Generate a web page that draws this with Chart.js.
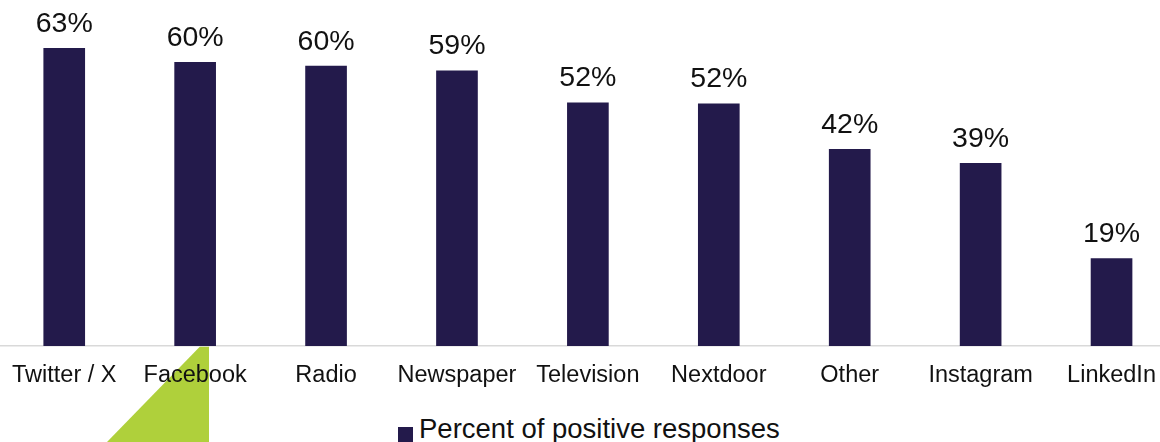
<!DOCTYPE html>
<html>
<head>
<meta charset="utf-8">
<script src="https://cdn.jsdelivr.net/npm/chart.js@4/dist/chart.umd.min.js"></script>
<style>
  html, body { margin: 0; padding: 0; background: #fff; overflow: hidden; }
  body { width: 1160px; height: 442px; position: relative; font-family: "Liberation Sans", Arial, sans-serif; }
  .accent {
    position: absolute; left: 0; top: 0; width: 1160px; height: 442px;
    background: #afd03b;
    clip-path: polygon(107px 442px, 200px 346.5px, 209px 346.5px, 209px 442px);
    z-index: 0;
  }
  .wrap { position: absolute; left: -3px; top: 0; width: 1180px; height: 400px; z-index: 1; }
  .legend {
    position: absolute; left: 398px; top: 413px; z-index: 2;
    font-size: 27.5px; color: #111; white-space: nowrap; line-height: 32px;
  }
  .legend span.box {
    display: inline-block; width: 15px; height: 15px; background: #231a4b;
    margin-right: 6px; vertical-align: -4px;
  }
</style>
</head>
<body>
<div class="accent"></div>
<div class="wrap"><canvas id="chart"></canvas></div>
<div class="legend" id="legend"></div>

<script>
const categories = ["Twitter / X", "Facebook", "Radio", "Newspaper", "Television", "Nextdoor", "Other", "Instagram", "LinkedIn"]
const positiveShare = [63.4, 60.4, 59.6, 58.6, 51.8, 51.6, 41.9, 38.9, 18.6]
const seriesName = "Percent of positive responses"

const barColor = "#231a4b"

// labels above each bar
const valueLabels = {
  id: "valueLabels",
  afterDatasetsDraw(chart) {
    const ctx = chart.ctx
    const meta = chart.getDatasetMeta(0)
    ctx.save()
    ctx.font = '28.5px "Liberation Sans", Arial, sans-serif'
    ctx.fillStyle = "#111"
    ctx.textAlign = "center"
    ctx.textBaseline = "alphabetic"
    meta.data.forEach((bar, i) => {
      ctx.fillText(Math.round(positiveShare[i]) + "%", bar.x, bar.y - 16.5)
    })
    ctx.restore()
  }
}

const ctx = document.getElementById("chart").getContext("2d")
new Chart(ctx, {
  type: "bar",
  data: {
    labels: categories,
    datasets: [{
      label: seriesName,
      data: positiveShare,
      backgroundColor: barColor,
      barThickness: 41
    }]
  },
  options: {
    responsive: true,
    maintainAspectRatio: false,
    animation: false,
    layout: { padding: 0 },
    plugins: {
      legend: { display: false },
      tooltip: { enabled: false }
    },
    scales: {
      x: {
        grid: { display: false, drawTicks: false },
        border: { display: true, color: "#d9d9d9", width: 1.5 },
        ticks: {
          color: "#111",
          padding: 15,
          maxRotation: 0,
          autoSkip: false,
          font: { family: '"Liberation Sans", Arial, sans-serif', size: 23.5 }
        },
        afterFit(scale) { scale.height = 54 }
      },
      y: {
        display: false,
        min: 0,
        max: 73.7
      }
    }
  },
  plugins: [valueLabels]
})

document.getElementById("legend").innerHTML = '<span class="box"></span>' + seriesName
</script>
</body>
</html>
